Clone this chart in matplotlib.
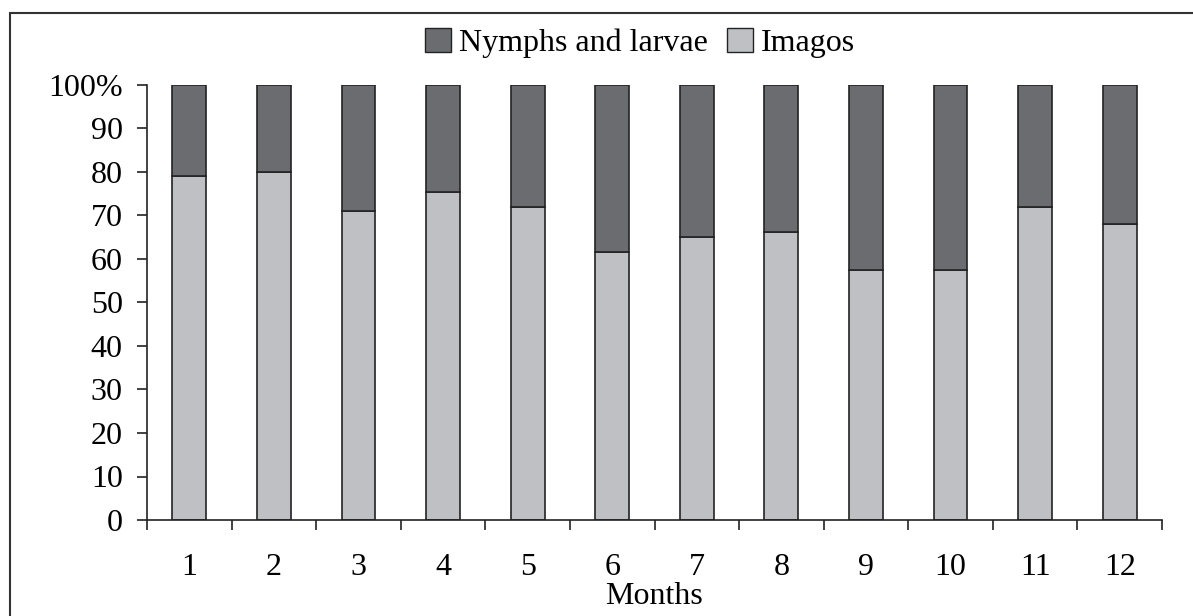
import matplotlib
matplotlib.use("Agg")
import matplotlib.pyplot as plt
from matplotlib.patches import Rectangle, Patch
import numpy as np

plt.rcParams['font.family'] = ['Liberation Serif', 'DejaVu Serif']

# data (percent)
months = [1, 2, 3, 4, 5, 6, 7, 8, 9, 10, 11, 12]
imagos = [79, 80, 71, 75.5, 72, 61.5, 65, 66.2, 57.5, 57.5, 72, 68]
nymphs = [100 - v for v in imagos]

dark = '#6b6c70'
light = '#bfc0c4'
edge = '#232323'

fig = plt.figure(figsize=(11.93, 6.16), dpi=100)
ax = fig.add_axes([147/1193, 1 - 520/616, (1162 - 147)/1193, (520 - 85)/616])

x = np.arange(len(months))
ax.bar(x, imagos, width=0.4, color=light, edgecolor=edge, linewidth=1.2)
ax.bar(x, nymphs, width=0.4, bottom=imagos, color=dark, edgecolor=edge, linewidth=1.2)

ax.set_xlim(-0.5, len(months) - 0.5)
ax.set_ylim(0, 100)

# ticks between categories, labels centred under the bars
ax.set_xticks(np.arange(-0.5, len(months), 1.0))
ax.set_xticklabels([])
ax.set_xticks(x, minor=True)
ax.set_xticklabels([str(m) for m in months], minor=True)
ax.tick_params(axis='x', which='major', direction='out', length=7.5, width=1.2, color=edge)
ax.tick_params(axis='x', which='minor', length=0, pad=24, labelsize=23)

yt = list(range(0, 101, 10))
ax.set_yticks(yt)
ax.set_yticklabels([str(v) if v < 100 else '100%' for v in yt])
ax.tick_params(axis='y', direction='out', length=7.5, width=1.2, color=edge, labelsize=23, pad=10)

for s in ['top', 'right']:
    ax.spines[s].set_visible(False)
for s in ['left', 'bottom']:
    ax.spines[s].set_linewidth(1.2)
    ax.spines[s].set_color(edge)

ax.set_xlabel('Months', fontsize=23, labelpad=0)

handles = [Patch(facecolor=dark, edgecolor=edge, label='Nymphs and larvae'),
           Patch(facecolor=light, edgecolor=edge, label='Imagos')]
fig.legend(handles=handles, loc='center', bbox_to_anchor=(640/1193, 1 - 43/616), ncol=2,
           frameon=False, fontsize=23, handlelength=0.8, handleheight=0.8,
           handletextpad=0.25, columnspacing=0.6)

# outer frame
fig.patches.append(Rectangle((10/1193, -0.1), 1.2, 1 - 13/616 + 0.1, transform=fig.transFigure,
                             fill=False, edgecolor='#333333', linewidth=1.5))

fig.savefig('out.png', dpi=100)
